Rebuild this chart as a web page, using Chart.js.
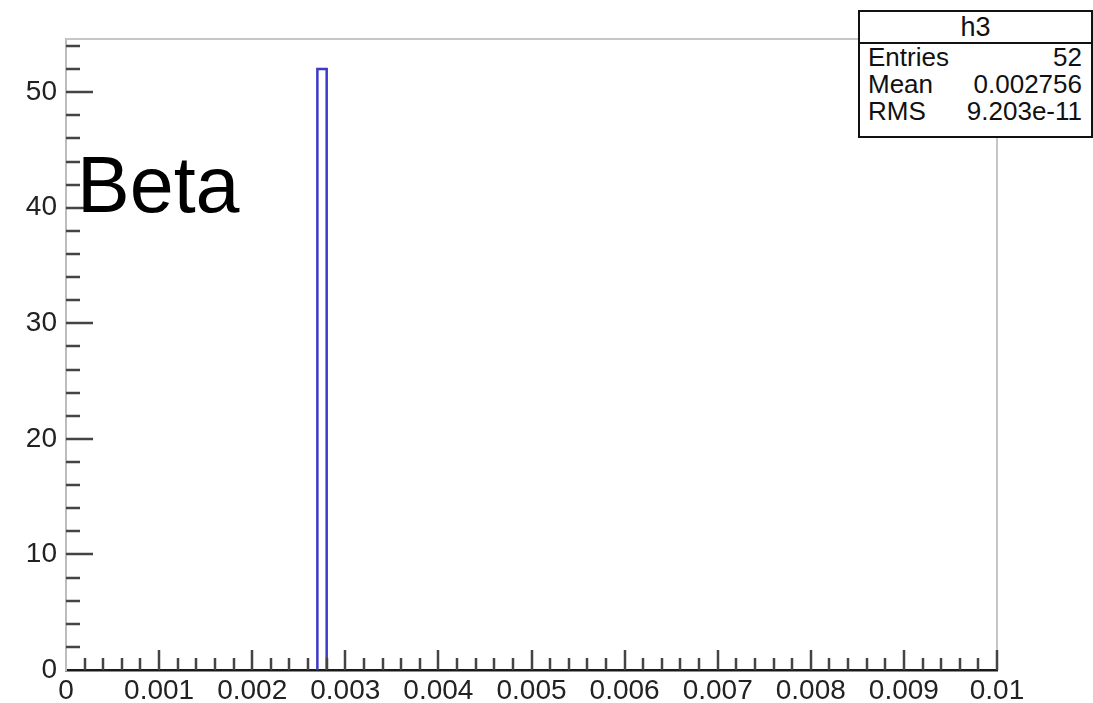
<!DOCTYPE html>
<html>
<head>
<meta charset="utf-8">
<script src="https://cdn.jsdelivr.net/npm/chart.js@4/dist/chart.umd.min.js"></script>
<style>
  html, body { margin: 0; padding: 0; background: #fff; }
  #wrap { position: relative; width: 1093px; height: 703px; overflow: hidden; }
  #c { position: absolute; left: 0; top: 0; }
  .stats { position: absolute; left: 858px; top: 10px; width: 231px; height: 124px;
           border: 2px solid #111; background: #fff; font-family: "Liberation Sans", Arial, sans-serif; color: #111; }
  .stats .hdr { position: absolute; left: 0; right: 0; top: 0; height: 30px; border-bottom: 2px solid #111; }
  .stats .t { position: absolute; font-size: 26px; line-height: 26px; white-space: nowrap; }
  .beta { position: absolute; left: 77px; top: 145px; font-family: "Liberation Sans", Arial, sans-serif;
          font-size: 79px; line-height: 79px; color: #000; white-space: nowrap; }
</style>
</head>
<body>
<div id="wrap">
  <canvas id="c" width="1093" height="703"></canvas>
  <div class="beta">Beta</div>
  <div class="stats" id="stats"></div>
</div>
<script>
// Histogram h3: 100 bins over [0, 0.01]; only the filled bin is listed
const histName = 'h3';
const binWidth = 0.0001;
const binLowEdges = [0.0027];
const binCounts = [52];
const statLabels = ['Entries', 'Mean', 'RMS'];
const statValues = ['52', '0.002756', '9.203e-11'];

const xTickValues = [0, 0.001, 0.002, 0.003, 0.004, 0.005, 0.006, 0.007, 0.008, 0.009, 0.01];
const xTickLabels = ['0', '0.001', '0.002', '0.003', '0.004', '0.005', '0.006', '0.007', '0.008', '0.009', '0.01'];
const yTickValues = [0, 10, 20, 30, 40, 50];
const yTickLabels = ['0', '10', '20', '30', '40', '50'];
const xRange = [0, 0.01];
const yRange = [0, 54.6];

// Step outline of the filled bins
const outline = [];
binLowEdges.forEach((lo, i) => {
  const hi = lo + binWidth;
  outline.push({ x: lo, y: 0 }, { x: lo, y: binCounts[i] }, { x: hi, y: binCounts[i] }, { x: hi, y: 0 });
});

// Stats box
const statsEl = document.getElementById('stats');
const hdr = document.createElement('div');
hdr.className = 'hdr';
statsEl.appendChild(hdr);
const title = document.createElement('div');
title.className = 't';
title.textContent = histName;
title.style.cssText = 'left:0;right:0;text-align:center;top:2px;font-size:27px;line-height:27px;';
statsEl.appendChild(title);
statLabels.forEach((lab, i) => {
  const l = document.createElement('div');
  l.className = 't';
  l.textContent = lab;
  l.style.left = '8px';
  l.style.top = (32 + i * 27) + 'px';
  statsEl.appendChild(l);
  const v = document.createElement('div');
  v.className = 't';
  v.textContent = statValues[i];
  v.style.right = '9px';
  v.style.top = (32 + i * 27) + 'px';
  statsEl.appendChild(v);
});

// Frame (top/right) and inward tick marks in the ROOT style
const frameTicks = {
  id: 'frameTicks',
  afterDatasetsDraw(chart) {
    const { ctx, chartArea: a, scales: { x, y } } = chart;
    ctx.save();
    ctx.strokeStyle = '#c6c6c6';
    ctx.lineWidth = 2;
    ctx.beginPath();
    ctx.moveTo(a.left, a.top); ctx.lineTo(a.right, a.top); ctx.lineTo(a.right, a.bottom);
    ctx.stroke();

    ctx.strokeStyle = '#444';
    ctx.lineWidth = 2.5;
    ctx.beginPath();
    for (let i = 1; i <= 27; i++) {
      const v = i * 2;
      const py = Math.round(y.getPixelForValue(v));
      const len = (v % 10 === 0) ? 27 : 14;
      ctx.moveTo(a.left, py); ctx.lineTo(a.left + len, py);
    }
    for (let i = 1; i <= 50; i++) {
      const px = Math.round(x.getPixelForValue(i * 0.0002));
      const len = (i % 5 === 0) ? 20 : 12;
      ctx.moveTo(px, a.bottom); ctx.lineTo(px, a.bottom - len);
    }
    ctx.stroke();
    ctx.restore();
  }
};

new Chart(document.getElementById('c'), {
  type: 'line',
  data: {
    datasets: [{
      data: outline,
      borderColor: '#3a3ac8',
      borderWidth: 2.5,
      pointRadius: 0,
      fill: false,
      tension: 0
    }]
  },
  options: {
    responsive: false,
    animation: false,
    devicePixelRatio: 1,
    layout: { padding: { left: 0, right: 96, top: 39, bottom: 0 } },
    plugins: { legend: { display: false }, tooltip: { enabled: false } },
    scales: {
      x: {
        type: 'linear',
        min: xRange[0], max: xRange[1],
        grid: { display: false },
        border: { display: true, color: '#1a1a1a', width: 2.5 },
        afterBuildTicks: s => { s.ticks = xTickValues.map(v => ({ value: v })); },
        afterFit: s => { s.height = 33; },
        ticks: {
          autoSkip: false, maxRotation: 0, padding: -4,
          color: '#222',
          font: { family: 'Liberation Sans, Arial, sans-serif', size: 28 },
          callback: (v, i) => xTickLabels[i]
        }
      },
      y: {
        type: 'linear',
        min: yRange[0], max: yRange[1],
        grid: { display: false },
        border: { display: true, color: '#bdbdbd', width: 2 },
        afterBuildTicks: s => { s.ticks = yTickValues.map(v => ({ value: v })); },
        afterFit: s => { s.width = 66; },
        ticks: {
          autoSkip: false, padding: 1,
          color: '#222',
          font: { family: 'Liberation Sans, Arial, sans-serif', size: 28 },
          callback: (v, i) => yTickLabels[i]
        }
      }
    }
  },
  plugins: [frameTicks]
});
</script>
</body>
</html>
